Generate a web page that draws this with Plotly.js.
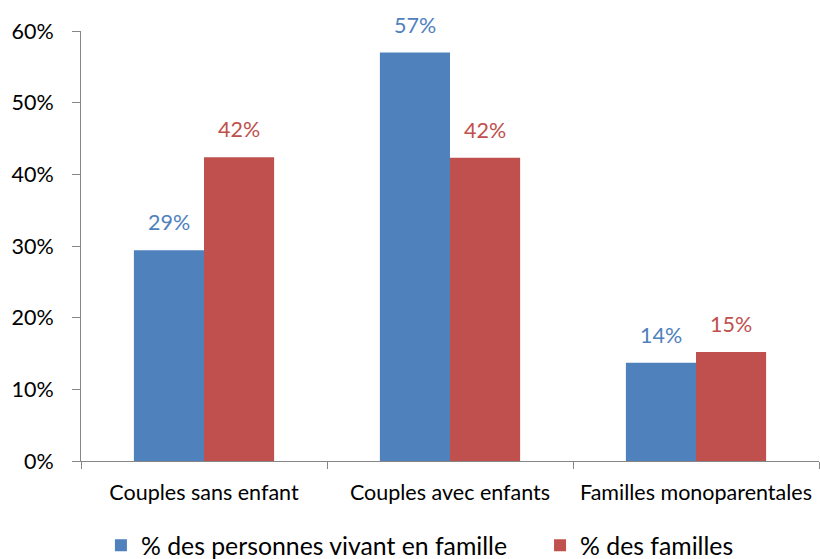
<!DOCTYPE html>
<html>
<head>
<meta charset="utf-8">
<script src="https://cdn.plot.ly/plotly-3.0.1.min.js"></script>
<style>html,body{margin:0;padding:0;background:#fff;}#chart{width:820px;height:559px;}</style>
</head>
<body>
<div id="chart"></div>
<script>
const categories = ["Couples sans enfant", "Couples avec enfants", "Familles monoparentales"];
const seriesNames = ["% des personnes vivant en famille", "% des familles"];
const personnes = [0.294, 0.570, 0.137];
const familles = [0.424, 0.423, 0.152];
const yTickVals = [0, 0.1, 0.2, 0.3, 0.4, 0.5, 0.6];
const yTickText = ["0%", "10%", "20%", "30%", "40%", "50%", "60%"];

const colors = ["#4F81BD", "#C0504D"];
const FONT = "Lato, 'Open Sans', sans-serif";
const bargap = 0.43;

const legendIds = ["legend", "legend2"];
const traces = [personnes, familles].map((vals, k) => ({
  type: "bar",
  name: seriesNames[k],
  x: categories,
  y: vals,
  legend: legendIds[k],
  marker: {color: colors[k], line: {width: 0}},
  hoverinfo: "skip"
}));

const half = (1 - bargap) / 4;
const annotations = [];
[personnes, familles].forEach((vals, k) => {
  vals.forEach((v, i) => {
    annotations.push({
      x: i + (k === 0 ? -half : half),
      y: v,
      xref: "x", yref: "y",
      text: Math.round(v * 100) + "%",
      showarrow: false,
      yanchor: "bottom",
      yshift: 13,
      font: {family: FONT, size: 21.5, color: colors[k]}
    });
  });
});

const legendFont = {family: FONT, size: 24.8, color: "#000"};

const layout = {
  width: 820, height: 559,
  margin: {l: 81, r: 1, t: 31, b: 98, autoexpand: false},
  paper_bgcolor: "#fff", plot_bgcolor: "#fff",
  barmode: "group",
  bargap: bargap,
  bargroupgap: 0,
  font: {family: FONT, size: 21.5, color: "#000"},
  xaxis: {
    type: "category",
    showline: true, linecolor: "#868686", linewidth: 1,
    ticks: "outside", ticklen: 7, tickcolor: "#868686", tickwidth: 1,
    tickson: "boundaries",
    tickfont: {family: FONT, size: 21.5, color: "#000"},
    ticklabelstandoff: 12,
    showgrid: false, zeroline: false, fixedrange: true, automargin: false
  },
  yaxis: {
    range: [0, 0.6],
    tickvals: yTickVals, ticktext: yTickText,
    showline: true, linecolor: "#868686", linewidth: 1,
    ticks: "outside", ticklen: 8, tickcolor: "#868686", tickwidth: 1,
    tickfont: {family: FONT, size: 21.5, color: "#000"},
    ticklabelstandoff: 14,
    showgrid: false, zeroline: false, fixedrange: true, automargin: false
  },
  legend: {
    orientation: "h",
    x: 0.027, xanchor: "left",
    y: -0.197, yanchor: "middle",
    font: legendFont
  },
  legend2: {
    orientation: "h",
    x: 0.622, xanchor: "left",
    y: -0.197, yanchor: "middle",
    font: legendFont
  },
  showlegend: true,
  annotations: annotations
};

Plotly.newPlot("chart", traces, layout, {displayModeBar: false, staticPlot: true});
</script>
</body>
</html>
